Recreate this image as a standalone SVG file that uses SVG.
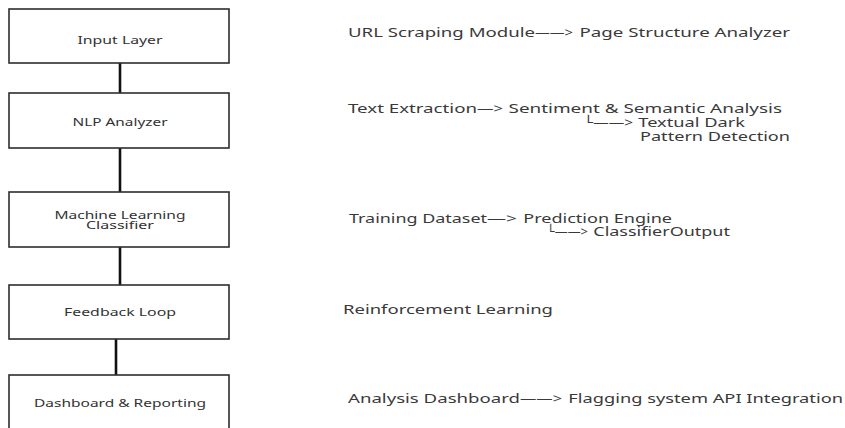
<svg xmlns="http://www.w3.org/2000/svg" width="845" height="428" viewBox="0 0 845 428">
<style>
.box{fill:#ffffff;stroke:#2e2e2e;stroke-width:1.6}
.conn{stroke:#111;stroke-width:2.6;fill:none}
.bt{font-family:"Noto Sans","Open Sans","DejaVu Sans",sans-serif;font-size:11px;fill:#333;text-anchor:middle}
.bt2{font-family:"Noto Sans","Open Sans","DejaVu Sans",sans-serif;font-size:10px;fill:#333;text-anchor:middle}
.rt{font-family:"Noto Sans","Open Sans","DejaVu Sans",sans-serif;font-size:13px;fill:#3a3a3a}
</style>
<rect width="845" height="428" fill="#fff"/>
<g id="connectors">
<line class="conn" x1="120" y1="63" x2="120" y2="93"/>
<line class="conn" x1="120" y1="148" x2="120" y2="192"/>
<line class="conn" x1="120" y1="247" x2="120" y2="285"/>
<line class="conn" x1="116" y1="339" x2="116" y2="375"/>
</g>
<g id="input-layer">
<rect class="box" x="9" y="9" width="220" height="54"/>
<text class="bt" x="120" y="44" textLength="85" lengthAdjust="spacingAndGlyphs">Input Layer</text>
</g>
<g id="nlp-analyzer">
<rect class="box" x="9" y="93" width="220" height="55"/>
<text class="bt" x="120" y="126" textLength="95" lengthAdjust="spacingAndGlyphs">NLP Analyzer</text>
</g>
<g id="ml-classifier">
<rect class="box" x="9" y="192" width="220" height="55"/>
<text class="bt2" x="120" y="218.5" textLength="131" lengthAdjust="spacingAndGlyphs">Machine Learning</text>
<text class="bt2" x="120" y="228.5" textLength="68" lengthAdjust="spacingAndGlyphs">Classifier</text>
</g>
<g id="feedback-loop">
<rect class="box" x="9" y="285" width="220" height="54"/>
<text class="bt" x="120" y="316" textLength="112" lengthAdjust="spacingAndGlyphs">Feedback Loop</text>
</g>
<g id="dashboard-reporting">
<rect class="box" x="9" y="375" width="220" height="70"/>
<text class="bt" x="120" y="407" textLength="172" lengthAdjust="spacingAndGlyphs">Dashboard &amp; Reporting</text>
</g>
<g id="input-detail">
<text class="rt" y="37"><tspan x="348" textLength="187" lengthAdjust="spacingAndGlyphs">URL Scraping Module</tspan><tspan x="535" textLength="38" lengthAdjust="spacingAndGlyphs">——&gt;</tspan><tspan x="574.6" textLength="215.4" lengthAdjust="spacingAndGlyphs"> Page Structure Analyzer</tspan></text>
</g>
<g id="nlp-detail">
<text class="rt" y="113"><tspan x="348" textLength="129" lengthAdjust="spacingAndGlyphs">Text Extraction</tspan><tspan x="477" textLength="26" lengthAdjust="spacingAndGlyphs">—&gt;</tspan><tspan x="503.6" textLength="278.4" lengthAdjust="spacingAndGlyphs"> Sentiment &amp; Semantic Analysis</tspan></text>
<text class="rt" y="127"><tspan x="584" textLength="49" lengthAdjust="spacingAndGlyphs">└——&gt;</tspan><tspan x="633.6" textLength="111.4" lengthAdjust="spacingAndGlyphs"> Textual Dark</tspan></text>
<text class="rt" x="640" y="141" textLength="150" lengthAdjust="spacingAndGlyphs">Pattern Detection</text>
</g>
<g id="ml-detail">
<text class="rt" y="223"><tspan x="349" textLength="138" lengthAdjust="spacingAndGlyphs">Training Dataset</tspan><tspan x="487" textLength="30" lengthAdjust="spacingAndGlyphs">—&gt;</tspan><tspan x="518.6" textLength="153.4" lengthAdjust="spacingAndGlyphs"> Prediction Engine</tspan></text>
<text class="rt" y="236"><tspan x="547" textLength="41" lengthAdjust="spacingAndGlyphs">└——&gt;</tspan><tspan x="588.6" textLength="141.4" lengthAdjust="spacingAndGlyphs"> ClassifierOutput</tspan></text>
</g>
<g id="feedback-detail">
<text class="rt" x="343" y="314" textLength="210" lengthAdjust="spacingAndGlyphs">Reinforcement Learning</text>
</g>
<g id="dashboard-detail">
<text class="rt" y="403"><tspan x="348" textLength="172" lengthAdjust="spacingAndGlyphs">Analysis Dashboard</tspan><tspan x="520" textLength="42" lengthAdjust="spacingAndGlyphs">——&gt;</tspan><tspan x="563.6" textLength="279.4" lengthAdjust="spacingAndGlyphs"> Flagging system API Integration</tspan></text>
</g>
</svg>
